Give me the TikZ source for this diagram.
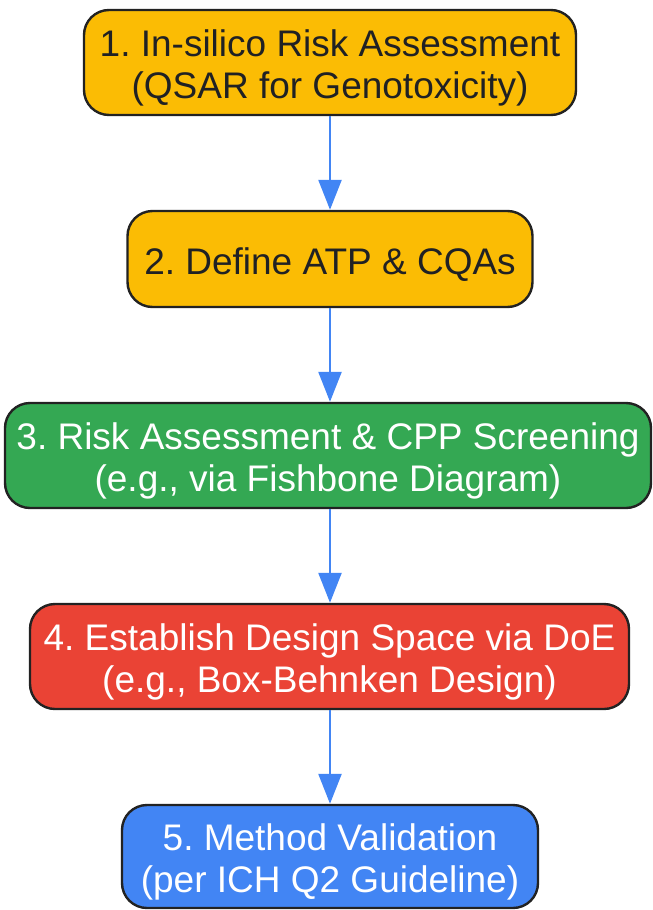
\documentclass[tikz,border=0pt]{standalone}
\usepackage{fontspec}
\setmainfont{Liberation Sans}
\usetikzlibrary{arrows.meta}
\usetikzlibrary{positioning}
\definecolor{gyellow}{HTML}{FBBC04}
\definecolor{ggreen}{HTML}{34A853}
\definecolor{gred}{HTML}{EA4335}
\definecolor{gblue}{HTML}{4285F4}
\definecolor{edgedark}{HTML}{222222}
\definecolor{textdark}{HTML}{202124}
\begin{document}
\frenchspacing
\begin{tikzpicture}[x=1pt,y=-1pt,
    stage/.style={draw=edgedark, line width=2.4pt, rounded corners=25pt,
        align=center, inner sep=0pt, text=white,
        font=\fontsize{37}{41.5}\selectfont,
        execute at begin node={\rule{0pt}{#1}}},
    stage/.default=38pt,
    flow/.style={draw=gblue, line width=2.4pt,
        -{Triangle[length=30pt,width=23pt]}}]
    \useasboundingbox (0,0) rectangle (653,910);

    % the five steps, top to bottom
    \node[stage=79pt, fill=gyellow, text=textdark, minimum width=492pt, minimum height=105pt]
        (qsar) at (330,62.5) {1. In-silico Risk Assessment\\(QSAR for Genotoxicity)};
    \node[stage, fill=gyellow, text=textdark, minimum width=405pt, minimum height=96pt]
        (atp) at (330,259) {2. Define ATP \& CQAs};
    \node[stage=79pt, fill=ggreen, minimum width=646pt, minimum height=105pt]
        (risk) at (328,455.5) {3. Risk Assessment \& CPP Screening\\(e.g., via Fishbone Diagram)};
    \node[stage=79pt, fill=gred, minimum width=599pt, minimum height=105pt]
        (doe) at (329.5,656.5) {4. Establish Design Space via DoE\\(e.g., Box-Behnken Design)};
    \node[stage=79pt, fill=gblue, minimum width=416pt, minimum height=103pt]
        (valid) at (330,856.5) {5. Method Validation\\(per ICH Q2 Guideline)};

    % arrows
    \draw[flow] (qsar.south) -- (qsar.south |- atp.north);
    \draw[flow] (atp.south) -- (atp.south |- risk.north);
    \draw[flow] (atp.south |- risk.south) -- (atp.south |- doe.north);
    \draw[flow] (atp.south |- doe.south) -- (atp.south |- valid.north);
\end{tikzpicture}
\end{document}
